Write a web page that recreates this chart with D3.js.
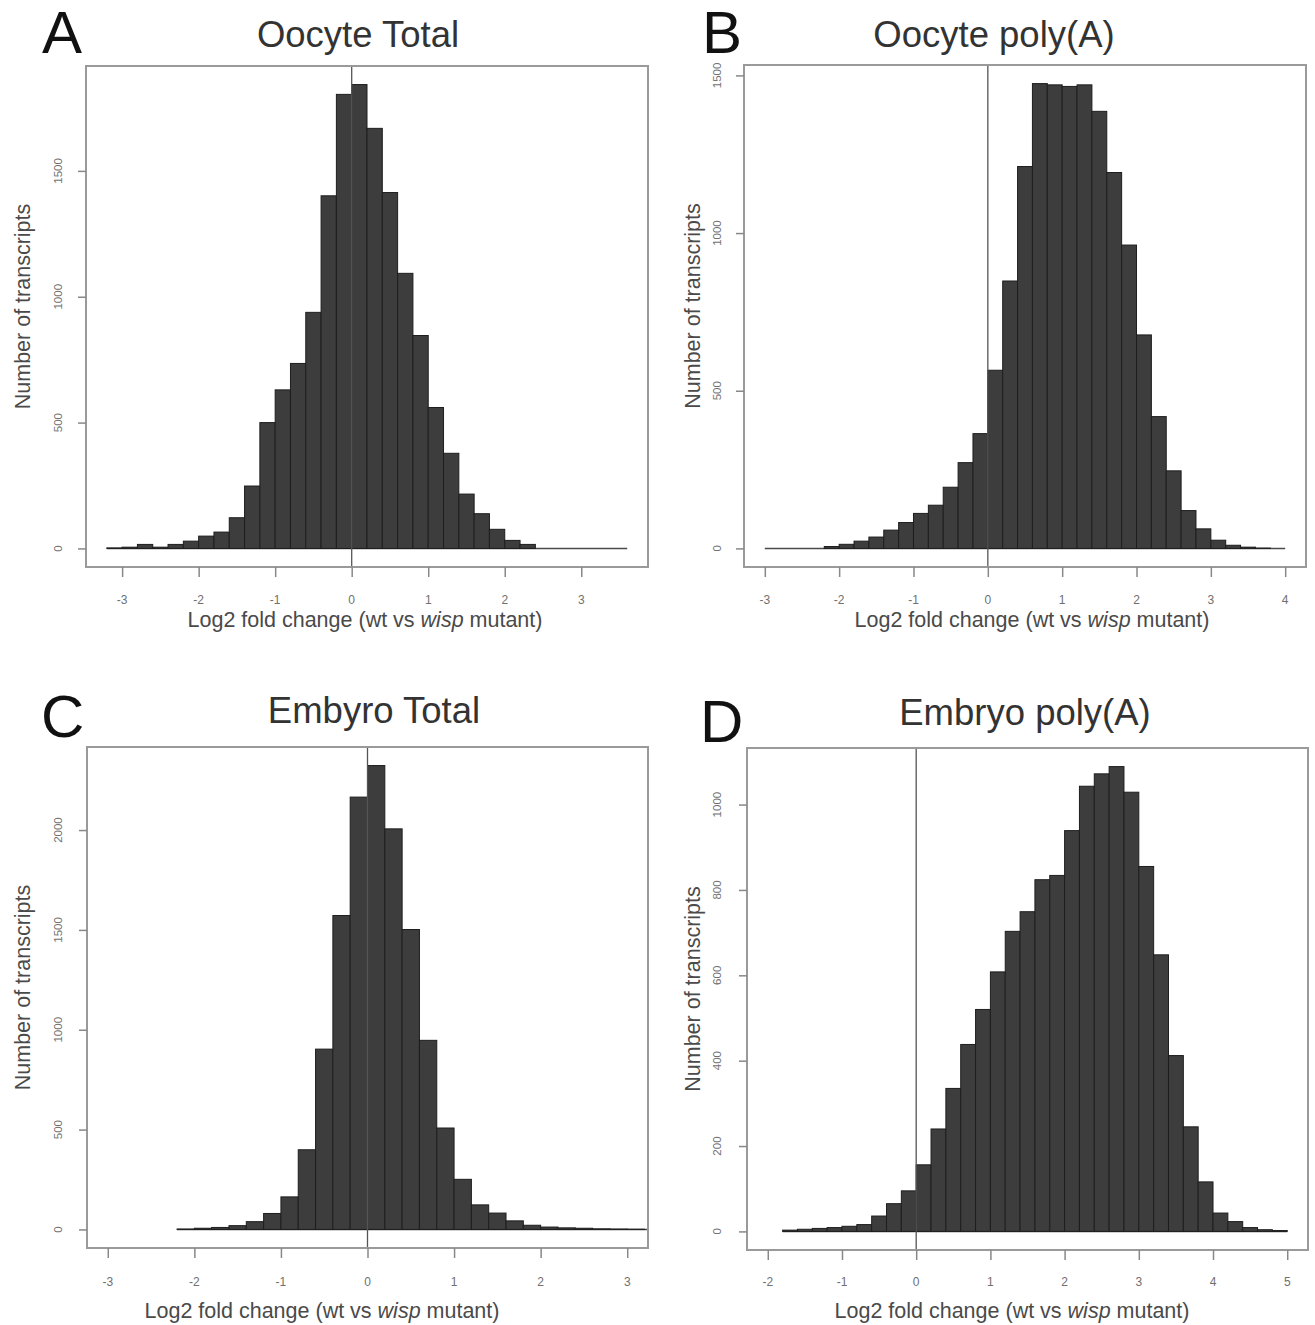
<!DOCTYPE html>
<html>
<head>
<meta charset="utf-8">
<script src="https://cdn.jsdelivr.net/npm/d3@7"></script>
<style>
  body { margin: 0; background: #fff; }
  svg { display: block; font-family: "Liberation Sans", Arial, sans-serif; }
</style>
</head>
<body>
<section></section>
<script>
"use strict";

const w = 1315;
const h = 1325;
const binWidth = 0.2;

// histogram counts, one per 0.2 bin, starting at the given break
const oocyteTotalStart = -3.2;
const oocyteTotalCounts = [
  2, 5, 16, 5, 16, 29, 49, 65, 122, 248, 500, 630, 735, 938, 1401, 1804,
  1843, 1669, 1414, 1093, 846, 560, 378, 216, 138, 76, 32, 16, 0, 0, 0, 0, 0, 0,
];

const oocytePolyAStart = -3.0;
const oocytePolyACounts = [
  0, 0, 0, 0, 6, 13, 23, 36, 58, 82, 111, 137, 194, 272, 364,
  565, 848, 1211, 1474, 1470, 1465, 1470, 1386, 1192, 962, 677, 418, 246, 120, 62,
  26, 10, 4, 1, 0,
];

const embryoTotalStart = -2.2;
const embryoTotalCounts = [
  2, 6, 10, 19, 39, 80, 163, 399, 903, 1572, 2165,
  2323, 2006, 1502, 947, 508, 251, 123, 82, 43, 21, 12, 8, 6, 3, 2, 1, 0, 0,
];

const embryoPolyAStart = -1.8;
const embryoPolyACounts = [
  3, 5, 7, 9, 12, 16, 36, 65, 95,
  156, 240, 335, 438, 520, 608, 703, 749, 824, 834, 939, 1043, 1072, 1089, 1029,
  855, 648, 412, 245, 116, 43, 23, 9, 4, 2,
];

// axis limits and tick labels
const xLimA = [-3.2, 3.6];
const xLimB = [-3, 4];
const xLimC = [-3, 3];
const xLimD = [-2, 5];
const xTicksA = [-3, -2, -1, 0, 1, 2, 3];
const xTicksB = [-3, -2, -1, 0, 1, 2, 3, 4];
const xTicksC = [-3, -2, -1, 0, 1, 2, 3];
const xTicksD = [-2, -1, 0, 1, 2, 3, 4, 5];
const yTicksA = [0, 500, 1000, 1500];
const yTicksB = [0, 500, 1000, 1500];
const yTicksC = [0, 500, 1000, 1500, 2000];
const yTicksD = [0, 200, 400, 600, 800, 1000];

const panels = [
  {
    letter: "A", title: "Oocyte Total", start: oocyteTotalStart, counts: oocyteTotalCounts,
    xLim: xLimA, xTicks: xTicksA, yTicks: yTicksA,
    box: { left: 86, right: 648, top: 66, bottom: 567 },
    letterX: 42, letterY: 53, titleX: 358, titleY: 47,
    yLabX: 22, yTickX: 58, xTickY: 604, xLabX: 365, xLabY: 627,
  },
  {
    letter: "B", title: "Oocyte poly(A)", start: oocytePolyAStart, counts: oocytePolyACounts,
    xLim: xLimB, xTicks: xTicksB, yTicks: yTicksB,
    box: { left: 744, right: 1306, top: 65, bottom: 567 },
    letterX: 702, letterY: 53, titleX: 994, titleY: 47,
    yLabX: 692, yTickX: 717, xTickY: 604, xLabX: 1032, xLabY: 627,
  },
  {
    letter: "C", title: "Embyro Total", start: embryoTotalStart, counts: embryoTotalCounts,
    xLim: xLimC, xTicks: xTicksC, yTicks: yTicksC,
    box: { left: 87, right: 648, top: 747, bottom: 1248 },
    letterX: 41, letterY: 737, titleX: 374, titleY: 723,
    yLabX: 22, yTickX: 58, xTickY: 1286, xLabX: 322, xLabY: 1318,
  },
  {
    letter: "D", title: "Embryo poly(A)", start: embryoPolyAStart, counts: embryoPolyACounts,
    xLim: xLimD, xTicks: xTicksD, yTicks: yTicksD,
    box: { left: 747, right: 1308, top: 748, bottom: 1250 },
    letterX: 700, letterY: 742, titleX: 1025, titleY: 725,
    yLabX: 692, yTickX: 717, xTickY: 1286, xLabX: 1012, xLabY: 1318,
  },
];

const svg = d3.select("section").append("svg").attr("width", w).attr("height", h);
svg.append("rect").attr("width", w).attr("height", h).attr("fill", "#fff");

//R style axis range: pad the limits by 4% each side
const pad = (lo, hi) => {
  const d = (hi - lo) * 0.04;
  return [lo - d, hi + d];
};

const drawPanel = (p, i) => {
  const { box } = p;
  const bins = p.counts.map((c, k) => ({ x0: p.start + k * binWidth, x1: p.start + (k + 1) * binWidth, count: c }));

  const xScale = d3.scaleLinear().domain(pad(p.xLim[0], p.xLim[1])).range([box.left, box.right]);
  const yScale = d3.scaleLinear().domain(pad(0, d3.max(p.counts))).range([box.bottom, box.top]);

  const g = svg.append("g");

  g.append("clipPath")
    .attr("id", `clip${i}`)
    .append("rect")
    .attr("x", box.left)
    .attr("y", box.top)
    .attr("width", box.right - box.left)
    .attr("height", box.bottom - box.top);

  const plot = g.append("g").attr("clip-path", `url(#clip${i})`);

  //baseline under the empty bins
  plot
    .append("line")
    .attr("x1", xScale(bins[0].x0))
    .attr("x2", xScale(bins[bins.length - 1].x1))
    .attr("y1", yScale(0))
    .attr("y2", yScale(0))
    .attr("stroke", "#4a4a4a")
    .attr("stroke-width", 1.5);

  //bars
  plot
    .append("g")
    .selectAll("rect")
    .data(bins.filter((d) => d.count > 0))
    .enter()
    .append("rect")
    .attr("x", (d) => xScale(d.x0))
    .attr("y", (d) => yScale(d.count))
    .attr("width", (d) => xScale(d.x1) - xScale(d.x0))
    .attr("height", (d) => yScale(0) - yScale(d.count))
    .attr("fill", "#3d3d3d")
    .attr("stroke", "#1e1e1e")
    .attr("stroke-width", 1);

  //vertical line at zero
  g.append("line")
    .attr("x1", xScale(0))
    .attr("x2", xScale(0))
    .attr("y1", box.top)
    .attr("y2", box.bottom)
    .attr("stroke", "#555")
    .attr("stroke-width", 1.3);

  //frame
  g.append("rect")
    .attr("x", box.left)
    .attr("y", box.top)
    .attr("width", box.right - box.left)
    .attr("height", box.bottom - box.top)
    .attr("fill", "none")
    .attr("stroke", "#9a9a9a")
    .attr("stroke-width", 2);

  //x axis
  const xAxis = d3.axisBottom(xScale).tickValues(p.xTicks).tickSize(10);
  g.append("g")
    .attr("transform", `translate(0, ${box.bottom})`)
    .call(xAxis)
    .call((a) => a.select(".domain").remove())
    .call((a) => a.selectAll(".tick line").attr("stroke", "#888").attr("stroke-width", 1.5))
    .call((a) => a.selectAll(".tick text").remove());

  g.append("g")
    .selectAll("text")
    .data(p.xTicks)
    .enter()
    .append("text")
    .attr("x", (d) => xScale(d))
    .attr("y", p.xTickY)
    .attr("text-anchor", "middle")
    .attr("font-size", 12)
    .attr("fill", "#707070")
    .text((d) => d);

  //y axis
  const yAxis = d3.axisLeft(yScale).tickValues(p.yTicks).tickSize(8);
  g.append("g")
    .attr("transform", `translate(${box.left}, 0)`)
    .call(yAxis)
    .call((a) => a.select(".domain").remove())
    .call((a) => a.selectAll(".tick line").attr("stroke", "#888").attr("stroke-width", 1.5))
    .call((a) => a.selectAll(".tick text").remove());

  g.append("g")
    .selectAll("text")
    .data(p.yTicks)
    .enter()
    .append("text")
    .attr("transform", (d) => `translate(${p.yTickX}, ${yScale(d)}) rotate(-90)`)
    .attr("dy", "0.35em")
    .attr("text-anchor", "middle")
    .attr("font-size", 11.5)
    .attr("fill", "#707070")
    .text((d) => d);

  //labels
  g.append("text")
    .attr("x", p.letterX)
    .attr("y", p.letterY)
    .attr("font-size", 60)
    .attr("fill", "#111")
    .text(p.letter);

  g.append("text")
    .attr("x", p.titleX)
    .attr("y", p.titleY)
    .attr("text-anchor", "middle")
    .attr("font-size", 36.5)
    .attr("fill", "#333")
    .text(p.title);

  g.append("text")
    .attr("transform", `translate(${p.yLabX}, ${(box.top + box.bottom) / 2 - 10}) rotate(-90)`)
    .attr("dy", "0.35em")
    .attr("text-anchor", "middle")
    .attr("font-size", 21.5)
    .attr("fill", "#4a4a4a")
    .text("Number of transcripts");

  const xLab = g
    .append("text")
    .attr("x", p.xLabX)
    .attr("y", p.xLabY)
    .attr("text-anchor", "middle")
    .attr("font-size", 21.5)
    .attr("fill", "#4a4a4a");
  xLab.append("tspan").text("Log2 fold change (wt vs ");
  xLab.append("tspan").attr("font-style", "italic").text("wisp");
  xLab.append("tspan").text(" mutant)");
};

panels.forEach(drawPanel);
</script>
</body>
</html>
